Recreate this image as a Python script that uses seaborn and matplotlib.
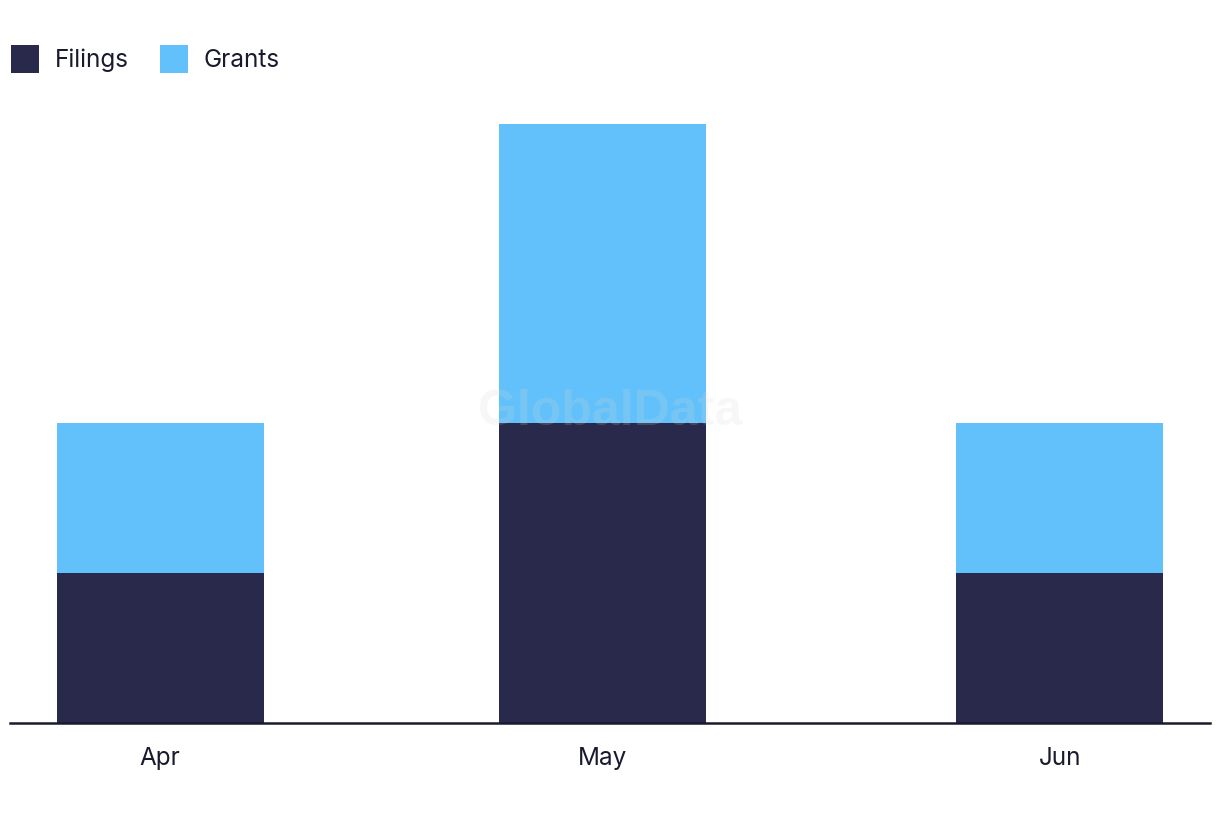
import matplotlib
matplotlib.use("Agg")
import matplotlib.pyplot as plt
import seaborn as sns
import pandas as pd
from matplotlib.patches import Patch

months = ["Apr", "May", "Jun"]
day_offsets = [0, 30, 61]  # days from Apr 1
filings = [1, 2, 1]
grants = [1, 2, 1]

dark = "#29294b"
light = "#62c1fa"

sns.set_theme(style="white")
plt.rcParams["font.family"] = ["Inter", "DejaVu Sans"]

df = pd.DataFrame({"day": day_offsets, "month": months,
                   "filings": filings, "grants": grants})
df["total"] = df["filings"] + df["grants"]

fig = plt.figure(figsize=(12.2, 8.22), dpi=100)
ax = fig.add_axes([10 / 1220, 99 / 822, 1200 / 1220, 599 / 822])

w = 0.4677
sns.barplot(data=df, x="day", y="total", color=light, native_scale=True,
            width=w, ax=ax, saturation=1, errorbar=None, linewidth=0)
sns.barplot(data=df, x="day", y="filings", color=dark, native_scale=True,
            width=w, ax=ax, saturation=1, errorbar=None, linewidth=0)

ax.set_xlim(-10.17, 71.17)
ax.set_ylim(0, 4)
ax.set_xticks(day_offsets)
ax.set_xticklabels(months, fontsize=17.5, color="#1a1a2e")
ax.tick_params(axis="x", length=0, pad=17)
ax.set_yticks([])
ax.set_xlabel("")
ax.set_ylabel("")
for s in ["top", "right", "left"]:
    ax.spines[s].set_visible(False)
ax.spines["bottom"].set_color("#1a1a2e")
ax.spines["bottom"].set_linewidth(1.8)

fig.text(0.5, 1 - 412 / 822, "GlobalData", ha="center", va="center",
         fontsize=36, fontweight="bold", color="#d8d8d8", alpha=0.18,
         family=["Liberation Sans", "DejaVu Sans"], zorder=10)

handles = [Patch(facecolor=dark, edgecolor="none", label="Filings"),
           Patch(facecolor=light, edgecolor="none", label="Grants")]
fig.legend(handles=handles, loc="upper left", bbox_to_anchor=(1 / 1220, 1 - 35 / 822),
           ncol=2, frameon=False, fontsize=17.5, handlelength=1.15, handleheight=1.4,
           handletextpad=0.65, columnspacing=1.3, labelcolor="#1a1a2e",
           borderaxespad=0)

fig.savefig("out.png", dpi=100)
